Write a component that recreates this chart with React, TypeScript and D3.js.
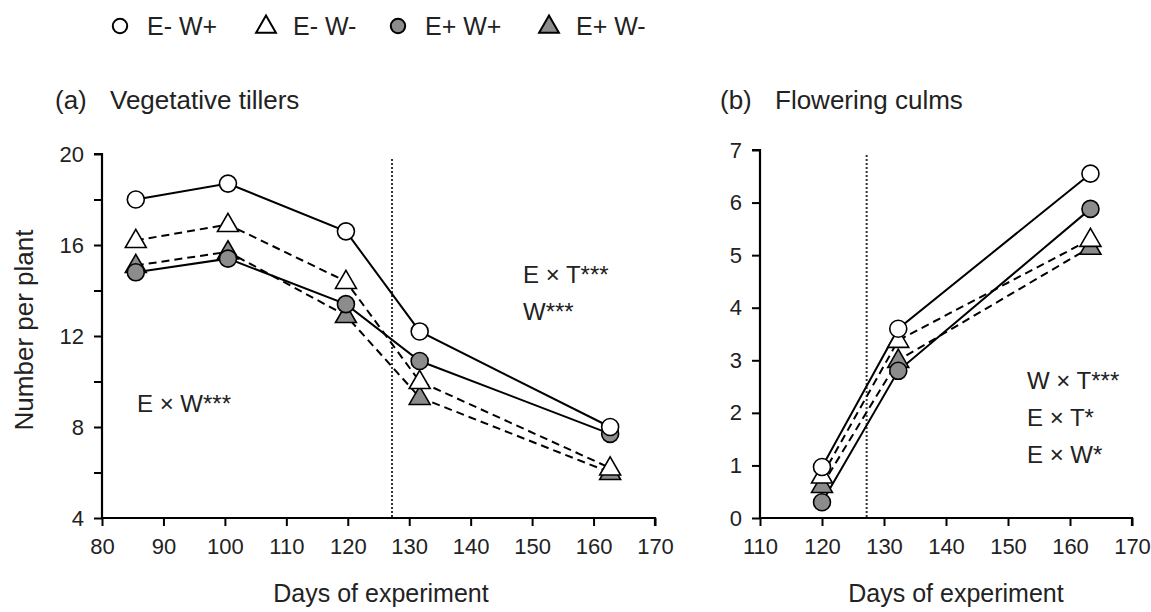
import React, { useEffect, useRef } from 'react';
import * as d3 from 'd3';

// days at which plants were counted
const daysA = [85.5, 100.5, 119.7, 131.7, 162.7];
const daysB = [120, 132.3, 163.3];

// (a) vegetative tillers per plant
const tillersEmWp = [18.0, 18.7, 16.6, 12.2, 8.0];
const tillersEmWm = [16.2, 16.9, 14.4, 10.0, 6.2];
const tillersEpWp = [14.8, 15.4, 13.4, 10.9, 7.7];
const tillersEpWm = [15.1, 15.7, 12.9, 9.3, 6.0];

// (b) flowering culms per plant
const culmsEmWp = [0.97, 3.6, 6.55];
const culmsEmWm = [0.8, 3.38, 5.3];
const culmsEpWp = [0.3, 2.8, 5.88];
const culmsEpWm = [0.62, 3.0, 5.15];

const seriesNames = ['E- W+', 'E- W-', 'E+ W+', 'E+ W-'];

const ticksA = [80, 90, 100, 110, 120, 130, 140, 150, 160, 170];
const ticksB = [110, 120, 130, 140, 150, 160, 170];

const notesA1 = ['E × T***', 'W***'];
const notesA2 = ['E × W***'];
const notesB = ['W × T***', 'E × T*', 'E × W*'];

const switchDay = 127.2;

const GRAY = '#8c8c8c';
const FONT = '"Liberation Sans", Arial, sans-serif';

type Style = { shape: 'circle' | 'triangle'; fill: string; dash: string | null };
const styles: Style[] = [
  { shape: 'circle', fill: '#fff', dash: null },
  { shape: 'triangle', fill: '#fff', dash: '8,5' },
  { shape: 'circle', fill: GRAY, dash: null },
  { shape: 'triangle', fill: GRAY, dash: '8,5' },
];

function drawMarker(g: d3.Selection<SVGGElement, unknown, null, undefined>, st: Style, x: number, y: number, big: boolean) {
  if (st.shape === 'circle') {
    g.append('circle')
      .attr('cx', x).attr('cy', y)
      .attr('r', big ? 8.5 : 7.2)
      .attr('fill', st.fill)
      .attr('stroke', '#000')
      .attr('stroke-width', big ? 1.6 : 2);
  } else {
    const sym = d3.symbol().type(d3.symbolTriangle).size(big ? 190 : 170);
    g.append('path')
      .attr('d', sym()!)
      .attr('transform', `translate(${x},${y + 1})`)
      .attr('fill', st.fill)
      .attr('stroke', '#000')
      .attr('stroke-width', big ? 1.6 : 2);
  }
}

export default function App() {
  const svgRef = useRef<SVGSVGElement>(null);

  useEffect(() => {
    if (!svgRef.current) return;
    const svg = d3.select(svgRef.current);
    svg.selectAll('*').remove();
    const root = svg.append('g').attr('font-family', FONT).attr('fill', '#222');

    // legend
    const legendX = [120, 266, 398, 549];
    seriesNames.forEach((name, i) => {
      const lg = root.append('g');
      drawMarker(lg, styles[i], legendX[i], 26, false);
      lg.append('text')
        .attr('x', legendX[i] + 27).attr('y', 35)
        .attr('font-size', 25)
        .text(name);
    });

    const panel = (
      left: number, right: number, top: number, bottom: number,
      xDomain: [number, number], yDomain: [number, number],
      xTicks: number[], yMinor: number[], yLabels: number[],
      days: number[], values: number[][],
      label: string, title: string, titleX: number, xLabelX: number
    ) => {
      const x = d3.scaleLinear().domain(xDomain).range([left, right]);
      const y = d3.scaleLinear().domain(yDomain).range([bottom, top]);
      const g = root.append('g');

      // vertical dotted line
      g.append('line')
        .attr('x1', x(switchDay)).attr('x2', x(switchDay))
        .attr('y1', top + 5).attr('y2', bottom)
        .attr('stroke', '#333').attr('stroke-width', 2)
        .attr('stroke-dasharray', '2,2');

      // axes
      const xAxis = g.append('g')
        .attr('transform', `translate(0,${bottom})`)
        .call(d3.axisBottom(x).tickValues(xTicks).tickSize(8).tickPadding(12).tickFormat(d3.format('d')));
      const yAxis = g.append('g')
        .attr('transform', `translate(${left},0)`)
        .call(d3.axisLeft(y).tickValues(yMinor).tickSize(8).tickPadding(10)
          .tickFormat(d => (yLabels.includes(+d) ? String(d) : '')));
      [xAxis, yAxis].forEach(a => {
        a.select('.domain').attr('stroke-width', 2.2).attr('stroke', '#000');
        a.selectAll('.tick line').attr('stroke-width', 2).attr('stroke', '#000');
        a.selectAll('text').attr('font-size', 22).attr('font-family', FONT).attr('fill', '#222');
      });
      xAxis.select('.domain').attr('d', `M${left},0H${right}V8`);
      yAxis.select('.domain').attr('d', `M-8,${top}H0V${bottom}`);

      // lines
      values.forEach((vals, i) => {
        const pts = vals.map((v, j) => [x(days[j]), y(v)] as [number, number]);
        g.append('path')
          .attr('d', d3.line()(pts)!)
          .attr('fill', 'none')
          .attr('stroke', '#000')
          .attr('stroke-width', 2)
          .attr('stroke-dasharray', styles[i].dash);
      });
      // markers
      const mg = g.append('g');
      [3, 2, 1, 0].forEach(i => {
        values[i].forEach((v, j) => drawMarker(mg, styles[i], x(days[j]), y(v), true));
      });

      // titles
      g.append('text').attr('x', titleX).attr('y', 109).attr('font-size', 26).text(label);
      g.append('text').attr('x', titleX + 55).attr('y', 109).attr('font-size', 26).text(title);
      g.append('text')
        .attr('x', xLabelX).attr('y', 602)
        .attr('text-anchor', 'middle')
        .attr('font-size', 25)
        .text('Days of experiment');
      return g;
    };

    const ga = panel(102, 655, 154, 518, [80, 170], [4, 20], ticksA,
      d3.range(4, 21, 2), [4, 8, 12, 16, 20], daysA,
      [tillersEmWp, tillersEmWm, tillersEpWp, tillersEpWm],
      '(a)', 'Vegetative tillers', 55, 381);
    const gb = panel(760, 1132, 150, 518, [110, 170], [0, 7], ticksB,
      d3.range(0, 8, 1), d3.range(0, 8, 1), daysB,
      [culmsEmWp, culmsEmWm, culmsEpWp, culmsEpWm],
      '(b)', 'Flowering culms', 720, 956);

    notesA1.forEach((t, i) => {
      ga.append('text').attr('x', 523).attr('y', 283 + i * 37).attr('font-size', 24).text(t);
    });
    notesA2.forEach((t, i) => {
      ga.append('text').attr('x', 137).attr('y', 412 + i * 37).attr('font-size', 24).text(t);
    });
    notesB.forEach((t, i) => {
      gb.append('text').attr('x', 1027).attr('y', 389 + i * 37).attr('font-size', 24).text(t);
    });

    // y-axis title
    root.append('text')
      .attr('transform', 'translate(33,330) rotate(-90)')
      .attr('text-anchor', 'middle')
      .attr('font-size', 26)
      .text('Number per plant');
  }, []);

  return (
    <svg ref={svgRef} width={1151} height={612}
      style={{ position: 'absolute', left: 0, top: 0, background: '#fff' }} />
  );
}
